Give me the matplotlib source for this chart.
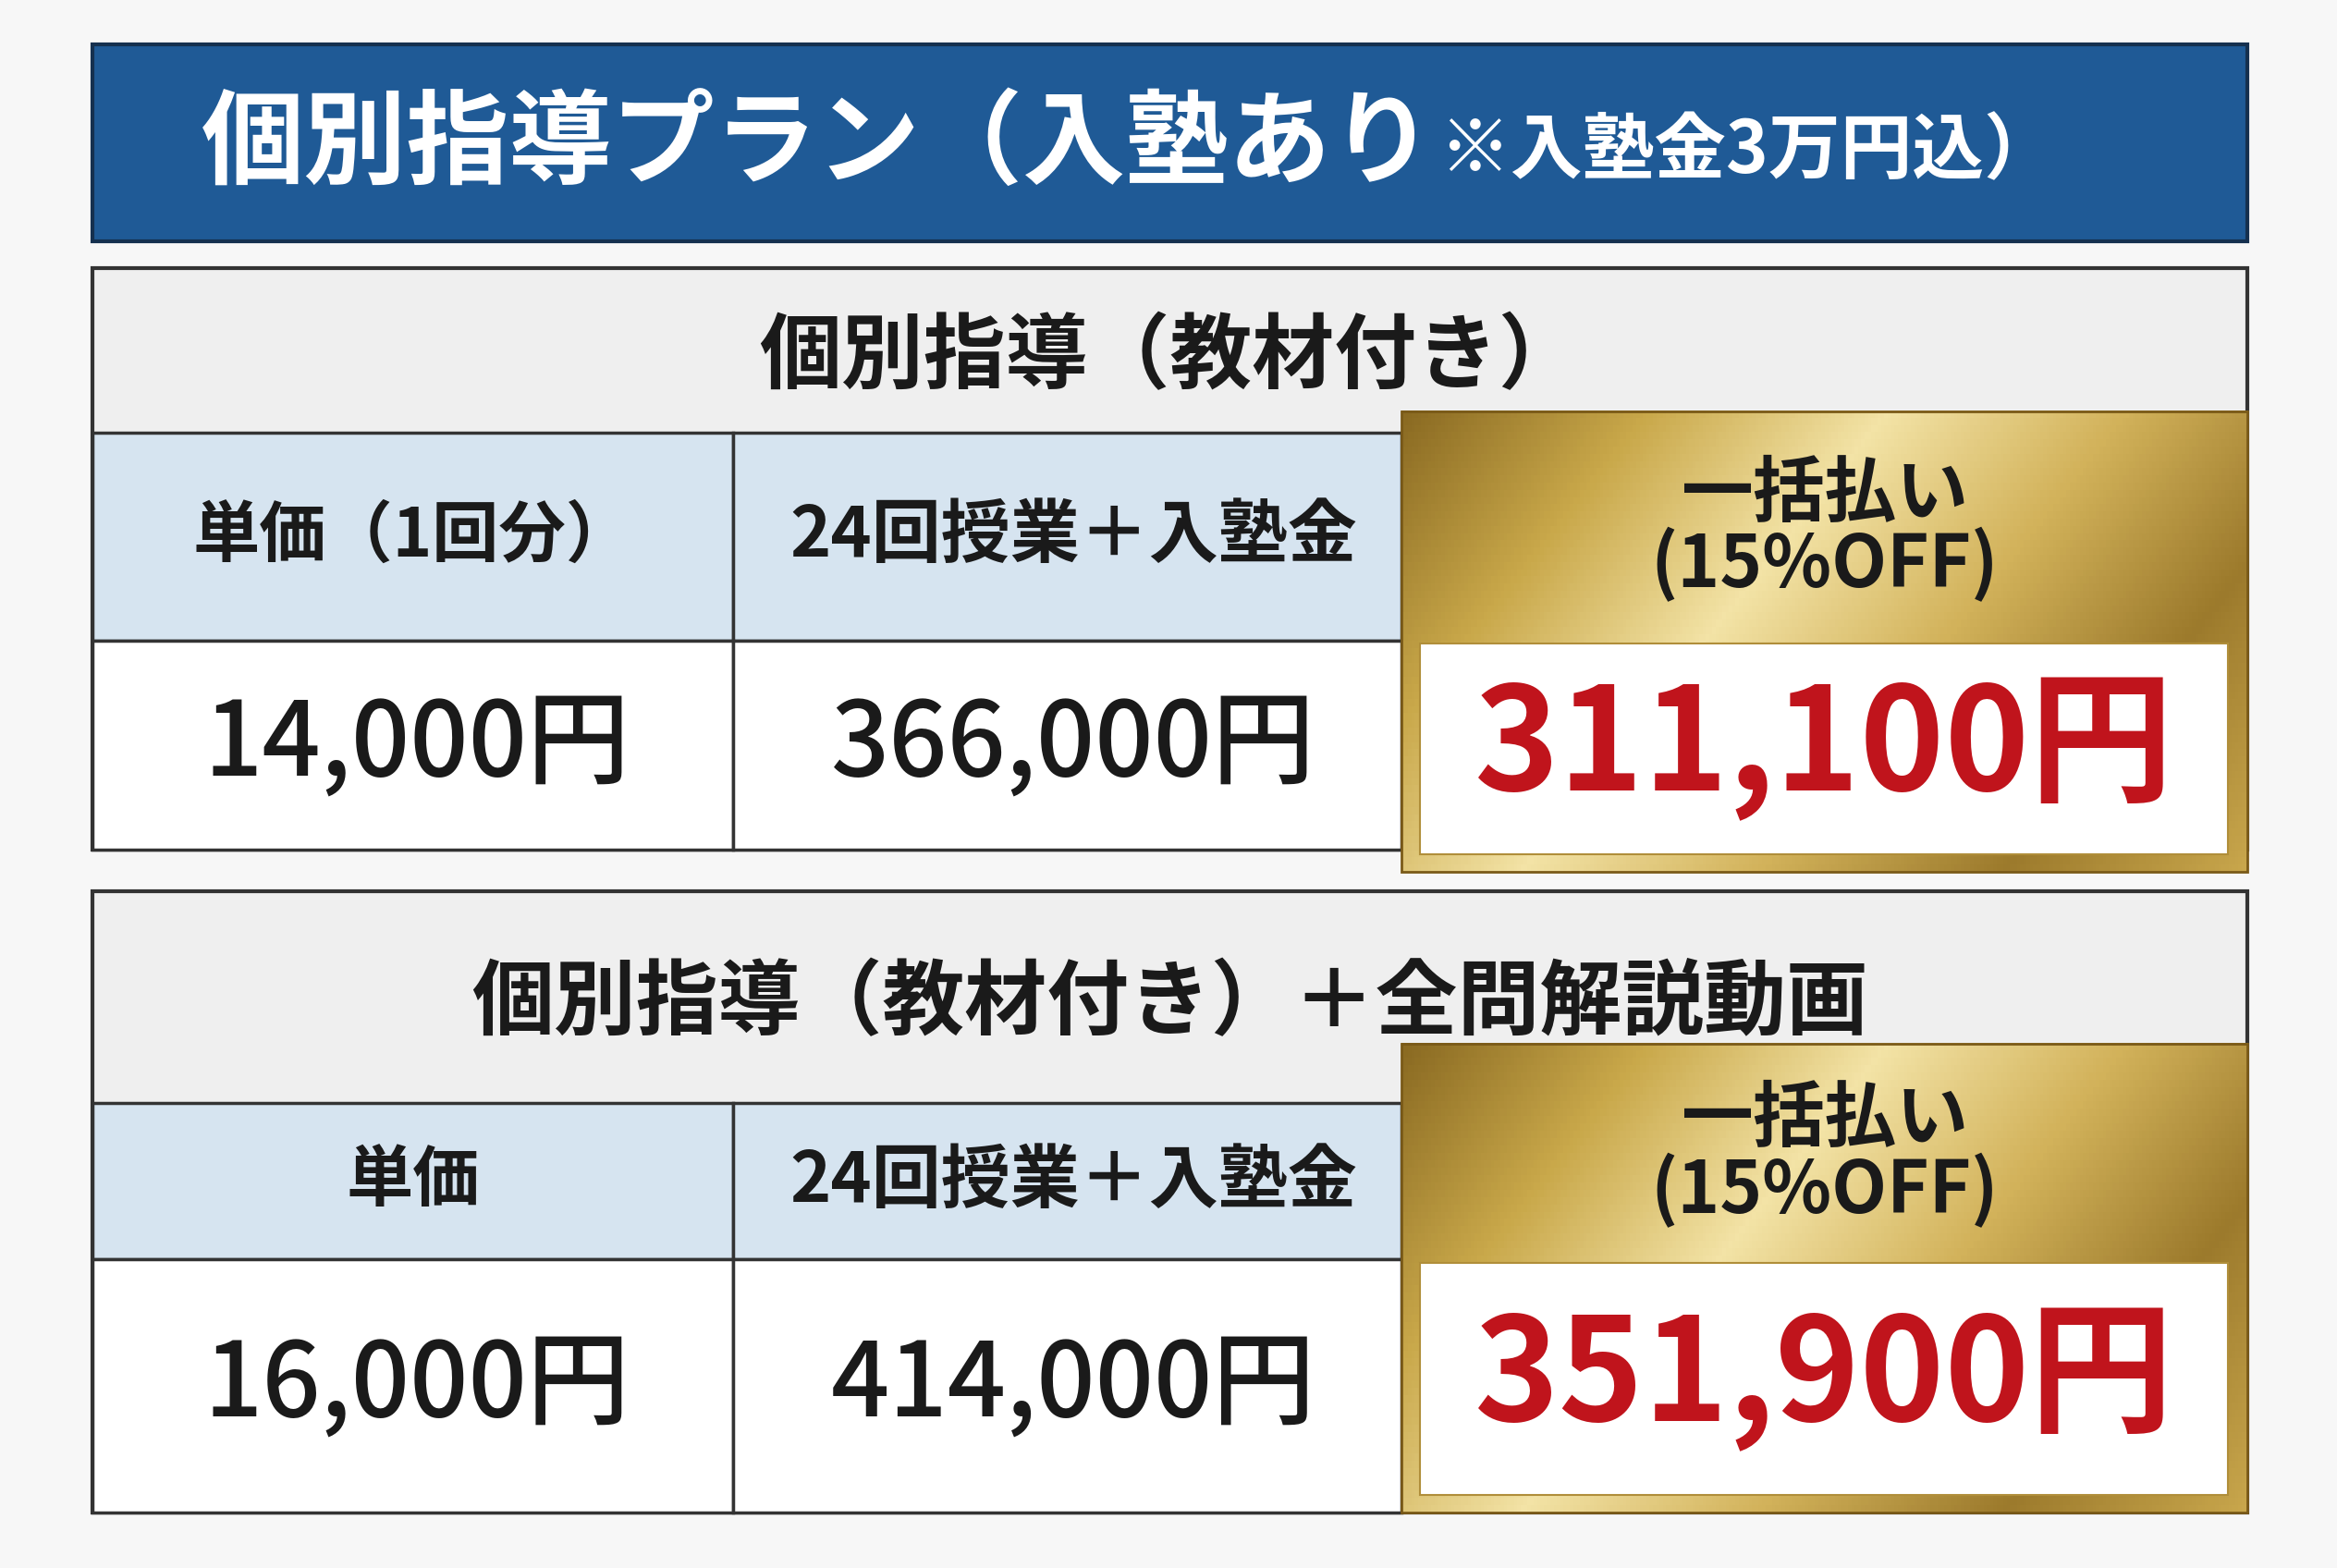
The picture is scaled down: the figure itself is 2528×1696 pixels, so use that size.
import numpy as np
import matplotlib.pyplot as plt
from matplotlib.patches import Rectangle
from matplotlib.colors import LinearSegmentedColormap

plt.rcParams['font.family'] = ['Noto Sans CJK JP', 'DejaVu Sans']

title_main = "個別指導プラン（入塾あり"
title_note = "※入塾金3万円込）"
plan_names = ["個別指導（教材付き）", "個別指導（教材付き）＋全問解説動画"]
unit_labels = ["単価（1回分）", "単価"]
total_label = "24回授業＋入塾金"
lump_label = "一括払い\n(15%OFF)"
unit_prices = ["14,000円", "16,000円"]
totals = ["366,000円", "414,000円"]
discounted = ["311,100円", "351,900円"]

W, H = 1568, 1052
fig = plt.figure(figsize=(25.28, 16.96), dpi=100)
ax = fig.add_axes([0, 0, 1, 1])
ax.set_xlim(0, W)
ax.set_ylim(H, 0)
ax.axis('off')
fig.patch.set_facecolor('#f7f7f7')

gold = LinearSegmentedColormap.from_list(
    'gold', ['#8a6a22', '#c9a84a', '#f3e3a6', '#d2b25a', '#9c7a2c', '#c8a64c'])

def box(x0, y0, x1, y1, fc, ec='#333333', lw=2.5, z=1):
    ax.add_patch(Rectangle((x0, y0), x1 - x0, y1 - y0, fc=fc, ec=ec, lw=lw, zorder=z))

# title bar
box(62, 30, 1508, 162, '#1f5a96', ec='#15304f', lw=3)
ax.text(135, 98, title_main, color='white', fontsize=80, fontweight='bold',
        va='center', ha='left')
ax.text(965, 102, title_note, color='white', fontsize=56, fontweight='bold',
        va='center', ha='left')

tables = [(180, 290, 430, 570, 276, 585), (598, 740, 845, 1015, 700, 1015)]
for i, (t0, t1, t2, t3, g0, g1) in enumerate(tables):
    box(62, t0, 1508, t3, '#efefef', lw=3)
    ax.text(785, (t0 + t1) / 2 + 5, plan_names[i], fontsize=64, fontweight='bold',
            ha='center', va='center', color='#1a1a1a')
    box(62, t1, 492, t2, '#d6e4f0')
    box(492, t1, 940, t2, '#d6e4f0')
    box(62, t2, 492, t3, 'white')
    box(492, t2, 940, t3, 'white')
    ax.text(277, (t1 + t2) / 2, unit_labels[i], fontsize=52, fontweight='bold',
            ha='center', va='center', color='#1a1a1a')
    ax.text(720, (t1 + t2) / 2, total_label, fontsize=54, fontweight='bold',
            ha='center', va='center', color='#1a1a1a')
    ax.text(280, (t2 + t3) / 2, unit_prices[i], fontsize=80, fontweight='medium',
            ha='center', va='center', color='#1a1a1a')
    ax.text(720, (t2 + t3) / 2, totals[i], fontsize=80, fontweight='medium',
            ha='center', va='center', color='#1a1a1a')
    # gold block
    grad = np.linspace(0, 1, 256)[None, :] * 0.7 + np.linspace(0, 1, 64)[:, None] * 0.3
    ax.imshow(grad, cmap=gold, extent=(940, 1508, g1, g0), aspect='auto', zorder=3)
    ax.add_patch(Rectangle((940, g0), 568, g1 - g0, fc='none', ec='#7a5a18', lw=2, zorder=4))
    ax.text(1224, (g0 + t2) / 2 + 3, lump_label, fontsize=56, fontweight='bold',
            ha='center', va='center', color='#1a1a1a', linespacing=0.95, zorder=5)
    inner0 = t2 + 2
    inner1 = g1 - 12
    box(953, inner0, 1495, inner1, 'white', ec='#b08e3a', lw=1.5, z=5)
    ax.text(1224, (inner0 + inner1) / 2, discounted[i], fontsize=112, fontweight='bold',
            ha='center', va='center', color='#c0141c', zorder=6)

fig.savefig('out.png', dpi=100, facecolor=fig.get_facecolor())
